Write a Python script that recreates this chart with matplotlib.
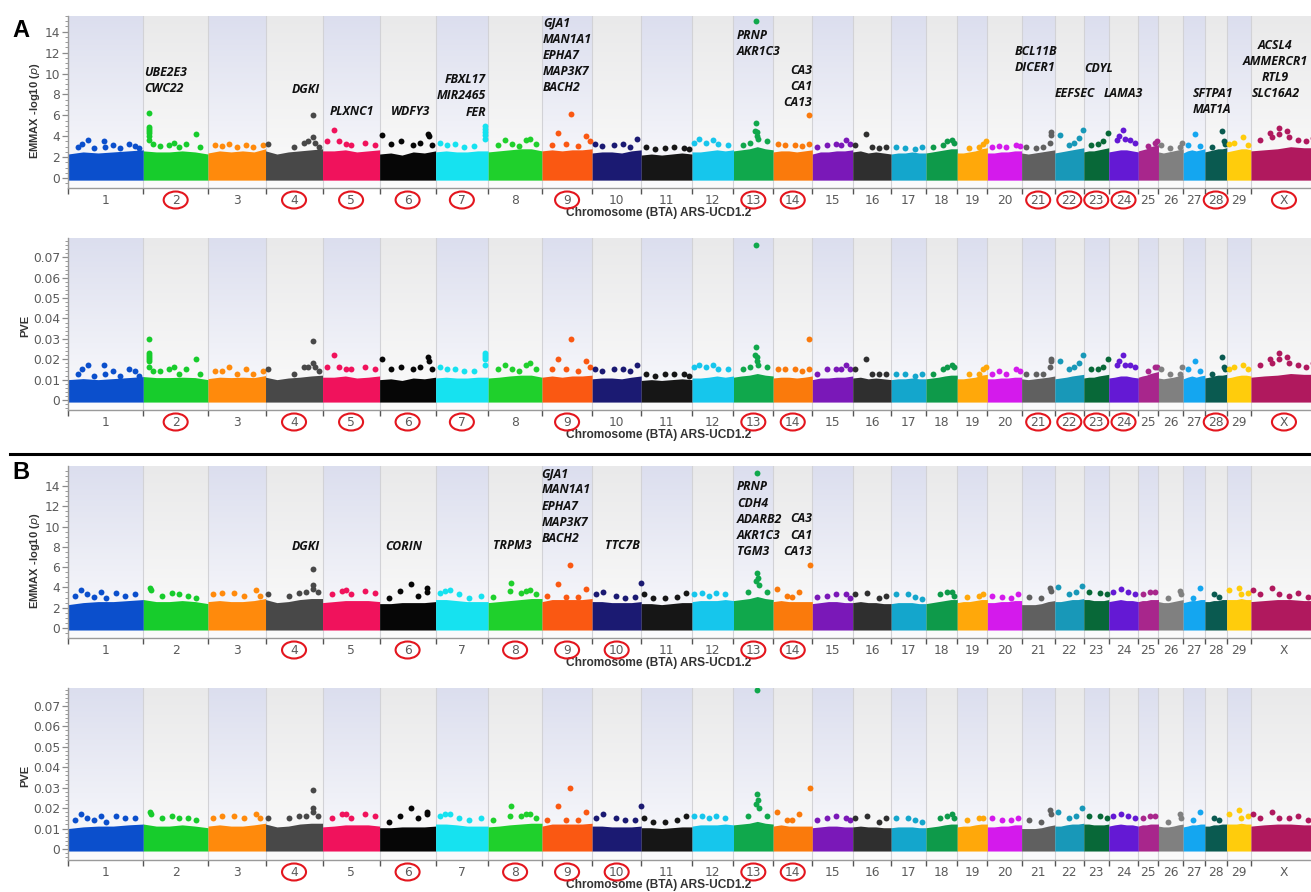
import numpy as np
import matplotlib
matplotlib.use("Agg")
import matplotlib.pyplot as plt
from matplotlib.patches import Ellipse
from matplotlib.transforms import blended_transform_factory
from matplotlib.ticker import MultipleLocator, FixedLocator, FuncFormatter, NullFormatter

# ---------------------------------------------------------------- genome
chrom_names = [str(i) for i in range(1, 30)] + ["X"]
chrom_len_mb = [158.5, 136.2, 121.0, 120.0, 120.1, 117.8, 110.7, 113.3, 105.5, 103.3,
                107.0, 87.2, 83.5, 82.4, 85.0, 81.0, 73.2, 65.8, 63.4, 72.0,
                69.9, 61.0, 52.5, 62.3, 42.4, 52.0, 45.6, 45.9, 51.1, 139.0]
chrom_colors = ["#0b4fcc", "#17cc2c", "#ff8a0c", "#484848", "#f0125c", "#060606",
                "#16e2f0", "#1fd02c", "#fa5812", "#1b1a72", "#161616", "#16c6ec",
                "#10a84c", "#fa7a0c", "#7a18b8", "#2f2f2f", "#14a6cc", "#0e9a4a",
                "#ffa80a", "#d41aec", "#606060", "#1898b8", "#086838", "#6419d4",
                "#a8268c", "#808080", "#14a6f0", "#0a5a50", "#ffcc0c", "#b0195e"]

# ------------------------------------------------ analysis A (upper block)
# top of the dense SNP mass, six samples along each chromosome
a_edge_logp = [[2.3, 2.5, 2.4, 2.5, 2.6, 2.7], [2.6, 2.5, 2.5, 2.6, 2.5, 2.3], [2.4, 2.6, 2.5, 2.6, 2.5, 2.8],
               [2.6, 2.3, 2.5, 2.6, 2.7, 2.8], [2.6, 2.6, 2.7, 2.5, 2.6, 2.7], [2.3, 2.4, 2.2, 2.5, 2.4, 2.6],
               [2.5, 2.6, 2.5, 2.5, 2.6, 2.6], [2.5, 2.6, 2.7, 2.8, 2.8, 2.6], [2.6, 2.7, 2.6, 2.7, 2.7, 2.8],
               [2.4, 2.5, 2.5, 2.4, 2.6, 2.7], [2.2, 2.3, 2.2, 2.3, 2.4, 2.3], [2.5, 2.5, 2.6, 2.7, 2.6, 2.7],
               [2.6, 2.7, 2.8, 3.0, 2.8, 2.7], [2.5, 2.6, 2.6, 2.5, 2.6, 2.7], [2.3, 2.5, 2.5, 2.6, 2.6, 2.7],
               [2.5, 2.6, 2.4, 2.5, 2.4, 2.3], [2.3, 2.4, 2.4, 2.5, 2.4, 2.4], [2.4, 2.5, 2.6, 2.7, 2.8, 2.8],
               [2.4, 2.4, 2.5, 2.6, 2.8, 2.9], [2.4, 2.4, 2.5, 2.5, 2.6, 2.6], [2.4, 2.3, 2.4, 2.5, 2.6, 2.7],
               [2.4, 2.5, 2.6, 2.7, 2.8, 2.9], [2.5, 2.6, 2.6, 2.7, 2.8, 2.9], [2.5, 2.6, 2.7, 2.7, 2.6, 2.5],
               [2.6, 2.7, 2.8, 3.0, 3.1, 3.2], [2.5, 2.4, 2.5, 2.6, 2.7, 2.8], [2.4, 2.6, 2.7, 2.6, 2.7, 2.8],
               [2.5, 2.6, 2.7, 2.8, 2.8, 2.9], [2.5, 2.6, 2.7, 2.8, 2.8, 2.7], [2.6, 2.7, 2.8, 3.0, 2.9, 2.9]]
a_edge_pve = [[.0100, .0105, .0100, .0105, .0110, .0115], [.0115, .0110, .0110, .0112, .0110, .0100],
              [.0105, .0112, .0110, .0112, .0110, .0120], [.0112, .0100, .0108, .0112, .0118, .0122],
              [.0112, .0112, .0118, .0108, .0112, .0118], [.0100, .0104, .0096, .0108, .0104, .0112],
              [.0108, .0112, .0108, .0108, .0112, .0112], [.0108, .0112, .0118, .0122, .0122, .0112],
              [.0112, .0118, .0112, .0118, .0118, .0122], [.0104, .0108, .0108, .0104, .0112, .0118],
              [.0096, .0100, .0096, .0100, .0104, .0100], [.0108, .0108, .0112, .0118, .0112, .0118],
              [.0112, .0118, .0122, .0130, .0122, .0118], [.0108, .0112, .0112, .0108, .0112, .0118],
              [.0100, .0108, .0108, .0112, .0112, .0118], [.0108, .0112, .0104, .0108, .0104, .0100],
              [.0100, .0104, .0104, .0108, .0104, .0104], [.0104, .0108, .0112, .0118, .0122, .0122],
              [.0104, .0104, .0108, .0112, .0122, .0126], [.0104, .0104, .0108, .0108, .0112, .0112],
              [.0104, .0100, .0104, .0108, .0112, .0118], [.0104, .0108, .0112, .0118, .0122, .0126],
              [.0108, .0112, .0112, .0118, .0122, .0126], [.0108, .0112, .0118, .0118, .0112, .0108],
              [.0112, .0118, .0122, .0130, .0135, .0140], [.0108, .0104, .0108, .0112, .0118, .0122],
              [.0104, .0112, .0118, .0112, .0118, .0122], [.0108, .0112, .0118, .0122, .0122, .0126],
              [.0108, .0112, .0118, .0122, .0122, .0118], [.0112, .0118, .0122, .0130, .0126, .0126]]
# individual SNPs standing out above the mass: position (Mb), -log10(p), PVE
a_pos = {"1": [20, 30, 42, 55, 75, 78, 95, 110, 128, 140, 150],
         "2": [13, 13, 13, 13, 13, 13, 13, 20, 35, 55, 65, 75, 90, 110, 120],
         "3": [15, 30, 45, 60, 80, 95, 115],
         "4": [5, 60, 80, 90, 99, 99, 105, 112],
         "5": [24, 10, 35, 50, 60, 90, 110],
         "6": [6, 25, 45, 70, 85, 101, 103, 110],
         "7": [10, 25, 40, 60, 80, 105, 105, 105, 105, 105],
         "8": [20, 35, 50, 65, 80, 88, 100],
         "9": [34, 61, 93, 20, 50, 75, 100],
         "10": [5, 20, 45, 65, 80, 95],
         "11": [10, 30, 50, 70, 90, 100],
         "12": [5, 15, 30, 45, 55, 75],
         "13": [48, 48, 46, 49, 50, 52, 20, 35, 70],
         "14": [76, 10, 25, 45, 60, 75],
         "15": [10, 30, 50, 60, 70, 80],
         "16": [5, 28, 40, 55, 70],
         "17": [10, 30, 50, 65],
         "18": [15, 35, 45, 55, 60],
         "19": [25, 45, 55, 60],
         "20": [10, 25, 40, 60, 68],
         "21": [61, 61, 60, 10, 30, 45],
         "22": [12, 50, 59, 30, 40],
         "23": [51, 40, 15, 30],
         "24": [31, 21, 18, 35, 45, 55],
         "25": [20, 35, 40],
         "26": [5, 25, 45, 50],
         "27": [25, 10, 35],
         "28": [37, 40, 43, 15],
         "29": [5, 15, 35, 45],
         "X": [59, 40, 45, 60, 75, 80, 100, 115, 130, 20]}
a_logp = {"1": [3.0, 3.3, 3.6, 2.9, 3.5, 3.0, 3.2, 2.9, 3.3, 3.1, 2.9],
          "2": [6.2, 4.9, 4.7, 4.5, 4.3, 4.0, 3.6, 3.3, 3.1, 3.2, 3.4, 3.0, 3.3, 4.2, 3.0],
          "3": [3.2, 3.1, 3.3, 3.0, 3.2, 3.0, 3.2],
          "4": [3.3, 3.0, 3.4, 3.5, 6.0, 3.9, 3.4, 3.0],
          "5": [4.6, 3.5, 3.5, 3.3, 3.2, 3.4, 3.2],
          "6": [4.1, 3.3, 3.5, 3.2, 3.4, 4.2, 4.0, 3.2],
          "7": [3.4, 3.2, 3.3, 3.0, 3.1, 5.0, 4.7, 4.4, 4.1, 3.7],
          "8": [3.2, 3.6, 3.3, 3.1, 3.6, 3.7, 3.3],
          "9": [4.3, 6.1, 4.0, 3.2, 3.3, 3.1, 3.5],
          "10": [3.3, 3.1, 3.2, 3.3, 3.0, 3.7],
          "11": [3.0, 2.8, 2.9, 3.0, 2.9, 2.8],
          "12": [3.4, 3.7, 3.4, 3.6, 3.3, 3.2],
          "13": [15.0, 5.3, 4.5, 4.4, 4.0, 3.7, 3.2, 3.4, 3.5],
          "14": [6.0, 3.3, 3.2, 3.2, 3.1, 3.3],
          "15": [3.0, 3.2, 3.3, 3.2, 3.6, 3.3],
          "16": [3.2, 4.2, 3.0, 2.9, 3.0],
          "17": [3.0, 2.9, 2.8, 3.0],
          "18": [3.0, 3.2, 3.5, 3.6, 3.4],
          "19": [2.9, 3.0, 3.3, 3.5],
          "20": [3.0, 3.1, 3.0, 3.2, 3.1],
          "21": [4.4, 4.1, 3.4, 3.0, 2.9, 3.0],
          "22": [4.1, 3.8, 4.6, 3.2, 3.4],
          "23": [4.3, 3.5, 3.2, 3.3],
          "24": [4.6, 4.0, 3.6, 3.7, 3.6, 3.4],
          "25": [3.1, 3.4, 3.5],
          "26": [3.2, 2.9, 3.0, 3.4],
          "27": [4.2, 3.2, 3.1],
          "28": [4.5, 3.5, 3.3, 3.0],
          "29": [3.3, 3.4, 3.9, 3.2],
          "X": [4.8, 4.3, 3.9, 4.2, 4.5, 3.9, 3.6, 3.5, 3.8, 3.6]}
a_pve = {"1": [.013, .015, .017, .012, .017, .013, .014, .012, .015, .014, .012],
         "2": [.030, .023, .022, .021, .020, .019, .016, .014, .014, .015, .016, .013, .015, .020, .013],
         "3": [.014, .014, .016, .013, .015, .013, .014],
         "4": [.015, .013, .016, .016, .029, .018, .016, .014],
         "5": [.022, .016, .016, .015, .015, .016, .015],
         "6": [.020, .015, .016, .015, .016, .021, .019, .015],
         "7": [.016, .015, .015, .014, .014, .023, .022, .021, .020, .017],
         "8": [.015, .017, .015, .014, .017, .018, .015],
         "9": [.020, .030, .019, .015, .015, .014, .016],
         "10": [.015, .014, .015, .015, .014, .017],
         "11": [.013, .012, .013, .013, .013, .012],
         "12": [.016, .017, .016, .017, .015, .015],
         "13": [.076, .026, .022, .021, .019, .017, .015, .016, .016],
         "14": [.030, .015, .015, .015, .014, .015],
         "15": [.013, .015, .015, .015, .017, .015],
         "16": [.015, .020, .013, .013, .013],
         "17": [.013, .013, .012, .013],
         "18": [.013, .015, .016, .017, .016],
         "19": [.013, .013, .015, .016],
         "20": [.013, .014, .013, .015, .014],
         "21": [.020, .019, .016, .013, .013, .013],
         "22": [.019, .018, .022, .015, .016],
         "23": [.020, .016, .015, .015],
         "24": [.022, .019, .017, .017, .017, .016],
         "25": [.014, .016, .016],
         "26": [.015, .013, .013, .016],
         "27": [.019, .015, .014],
         "28": [.021, .016, .015, .013],
         "29": [.015, .016, .017, .015],
         "X": [.023, .020, .018, .020, .021, .018, .017, .016, .018, .017]}
a_circled = ["2", "4", "5", "6", "7", "9", "13", "14", "21", "22", "23", "24", "28", "X"]
# gene annotations: lines, genome position (Mb), y of first line, alignment
a_genes = [(["UBE2E3", "CWC22"], 160, 10.1, "left"),
           (["DGKI"], 501, 8.45, "center"),
           (["PLXNC1"], 551, 6.35, "left"),
           (["WDFY3"], 680, 6.35, "left"),
           (["FBXL17", "MIR2465", "FER"], 880, 9.4, "right"),
           (["GJA1", "MAN1A1", "EPHA7", "MAP3K7", "BACH2"], 1000, 14.8, "left"),
           (["PRNP", "AKR1C3"], 1408, 13.65, "left"),
           (["CA3", "CA1", "CA13"], 1566, 10.3, "right"),
           (["BCL11B", "DICER1"], 1993, 12.1, "left"),
           (["EEFSEC"], 2077, 8.1, "left"),
           (["CDYL"], 2138, 10.5, "left"),
           (["LAMA3"], 2180, 8.1, "left"),
           (["SFTPA1", "MAT1A"], 2367, 8.1, "left"),
           (["ACSL4", "AMMERCR1", "RTL9", "SLC16A2"], 2541, 12.7, "center")]

# ------------------------------------------------ analysis B (lower block)
b_edge_logp = [[2.3, 2.5, 2.6, 2.6, 2.7, 2.8], [2.8, 2.6, 2.6, 2.7, 2.6, 2.4], [2.6, 2.7, 2.6, 2.6, 2.7, 2.9],
               [2.8, 2.5, 2.6, 2.8, 2.9, 2.9], [2.5, 2.6, 2.7, 2.7, 2.7, 2.6], [2.4, 2.4, 2.5, 2.5, 2.5, 2.6],
               [2.8, 2.8, 2.7, 2.6, 2.6, 2.6], [2.5, 2.6, 2.7, 2.8, 2.9, 2.9], [2.6, 2.8, 2.8, 2.8, 2.8, 2.9],
               [2.6, 2.6, 2.5, 2.5, 2.5, 2.6], [2.4, 2.4, 2.3, 2.4, 2.5, 2.5], [2.6, 2.7, 2.7, 2.7, 2.8, 2.7],
               [2.7, 2.8, 2.9, 3.1, 2.9, 2.8], [2.6, 2.7, 2.6, 2.6, 2.6, 2.6], [2.4, 2.5, 2.6, 2.6, 2.5, 2.5],
               [2.5, 2.6, 2.5, 2.5, 2.4, 2.4], [2.4, 2.5, 2.5, 2.5, 2.4, 2.4], [2.4, 2.5, 2.6, 2.7, 2.8, 2.8],
               [2.5, 2.6, 2.6, 2.7, 2.8, 2.8], [2.5, 2.5, 2.6, 2.6, 2.7, 2.7], [2.3, 2.3, 2.3, 2.4, 2.6, 2.7],
               [2.6, 2.6, 2.7, 2.8, 2.8, 2.9], [2.8, 2.8, 2.7, 2.7, 2.7, 2.8], [2.6, 2.7, 2.8, 2.7, 2.7, 2.6],
               [2.6, 2.7, 2.7, 2.8, 2.8, 2.8], [2.6, 2.5, 2.5, 2.6, 2.7, 2.8], [2.5, 2.6, 2.7, 2.7, 2.8, 2.8],
               [2.6, 2.6, 2.7, 2.7, 2.8, 2.8], [2.8, 2.8, 2.8, 2.9, 2.8, 2.8], [2.6, 2.7, 2.8, 2.8, 2.7, 2.7]]
b_edge_pve = [[.0100, .0108, .0112, .0112, .0118, .0122], [.0122, .0112, .0112, .0118, .0112, .0104],
              [.0112, .0118, .0112, .0112, .0118, .0126], [.0122, .0108, .0112, .0122, .0126, .0126],
              [.0108, .0112, .0118, .0118, .0118, .0112], [.0104, .0104, .0108, .0108, .0108, .0112],
              [.0122, .0122, .0118, .0112, .0112, .0112], [.0108, .0112, .0118, .0122, .0126, .0126],
              [.0112, .0122, .0122, .0122, .0122, .0126], [.0112, .0112, .0108, .0108, .0108, .0112],
              [.0104, .0104, .0100, .0104, .0108, .0108], [.0112, .0118, .0118, .0118, .0122, .0118],
              [.0118, .0122, .0126, .0135, .0126, .0122], [.0112, .0118, .0112, .0112, .0112, .0112],
              [.0104, .0108, .0112, .0112, .0108, .0108], [.0108, .0112, .0108, .0108, .0104, .0104],
              [.0104, .0108, .0108, .0108, .0104, .0104], [.0104, .0108, .0112, .0118, .0122, .0122],
              [.0108, .0112, .0112, .0118, .0122, .0122], [.0108, .0108, .0112, .0112, .0118, .0118],
              [.0100, .0100, .0100, .0104, .0112, .0118], [.0112, .0112, .0118, .0122, .0122, .0126],
              [.0122, .0122, .0118, .0118, .0118, .0122], [.0112, .0118, .0122, .0118, .0118, .0112],
              [.0112, .0118, .0118, .0122, .0122, .0122], [.0112, .0108, .0108, .0112, .0118, .0122],
              [.0108, .0112, .0118, .0118, .0122, .0122], [.0112, .0112, .0118, .0118, .0122, .0122],
              [.0122, .0122, .0122, .0126, .0122, .0122], [.0112, .0118, .0122, .0122, .0118, .0118]]
b_pos = {"1": [15, 27, 40, 55, 70, 80, 100, 120, 140],
         "2": [15, 16, 40, 60, 75, 95, 110],
         "3": [10, 30, 55, 75, 100, 110],
         "4": [5, 50, 70, 85, 99, 99, 100, 110],
         "5": [20, 40, 50, 60, 90, 110],
         "6": [42, 67, 99, 100, 20, 80],
         "7": [10, 20, 30, 50, 70, 95],
         "8": [10, 45, 49, 70, 80, 87, 100],
         "9": [10, 34, 59, 93, 50, 75],
         "10": [8, 23, 50, 70, 102, 90],
         "11": [5, 25, 50, 75, 95],
         "12": [5, 20, 35, 50, 70],
         "13": [50, 50, 52, 48, 53, 30, 70],
         "14": [8, 55, 78, 30, 40],
         "15": [10, 30, 50, 70, 80],
         "16": [5, 30, 55, 70],
         "17": [10, 35, 50, 65],
         "18": [30, 45, 55, 60],
         "19": [20, 45, 55],
         "20": [10, 30, 50, 65],
         "21": [60, 62, 15, 40],
         "22": [6, 30, 58, 45],
         "23": [10, 35, 48],
         "24": [10, 25, 40, 55],
         "25": [10, 25, 35],
         "26": [20, 45, 48],
         "27": [20, 35],
         "28": [20, 30],
         "29": [5, 25, 30, 45],
         "X": [5, 20, 45, 60, 80, 100, 120]}
b_logp = {"1": [3.2, 3.7, 3.3, 3.1, 3.5, 3.0, 3.4, 3.2, 3.3],
          "2": [3.9, 3.7, 3.2, 3.4, 3.3, 3.2, 3.0],
          "3": [3.3, 3.4, 3.4, 3.2, 3.7, 3.2],
          "4": [3.3, 3.2, 3.4, 3.5, 5.8, 4.2, 3.8, 3.5],
          "5": [3.3, 3.6, 3.7, 3.3, 3.6, 3.4],
          "6": [3.6, 4.3, 3.9, 3.5, 3.0, 3.2],
          "7": [3.4, 3.6, 3.7, 3.3, 3.0, 3.2],
          "8": [3.1, 3.6, 4.4, 3.4, 3.6, 3.7, 3.3],
          "9": [3.2, 4.3, 6.2, 3.8, 3.1, 3.1],
          "10": [3.3, 3.5, 3.2, 3.0, 4.4, 3.1],
          "11": [3.3, 3.0, 3.0, 3.1, 3.4],
          "12": [3.3, 3.4, 3.2, 3.4, 3.3],
          "13": [15.3, 5.4, 4.9, 4.6, 4.2, 3.5, 3.5],
          "14": [3.8, 3.5, 6.2, 3.2, 3.1],
          "15": [3.1, 3.2, 3.3, 3.3, 3.0],
          "16": [3.3, 3.4, 3.0, 3.2],
          "17": [3.3, 3.3, 3.1, 2.9],
          "18": [3.3, 3.5, 3.5, 3.2],
          "19": [3.1, 3.2, 3.3],
          "20": [3.2, 3.1, 3.0, 3.3],
          "21": [3.9, 3.6, 3.1, 3.0],
          "22": [4.0, 3.3, 4.1, 3.5],
          "23": [3.5, 3.4, 3.3],
          "24": [3.5, 3.8, 3.5, 3.3],
          "25": [3.3, 3.5, 3.5],
          "26": [3.0, 3.6, 3.3],
          "27": [3.0, 3.9],
          "28": [3.3, 3.1],
          "29": [3.7, 3.9, 3.3, 3.4],
          "X": [3.7, 3.3, 3.9, 3.3, 3.2, 3.4, 3.1]}
b_pve = {"1": [.014, .017, .015, .014, .016, .013, .016, .015, .015],
         "2": [.018, .017, .015, .016, .015, .015, .014],
         "3": [.015, .016, .016, .015, .017, .015],
         "4": [.015, .015, .016, .016, .029, .020, .018, .016],
         "5": [.015, .017, .017, .015, .017, .016],
         "6": [.016, .020, .018, .017, .013, .015],
         "7": [.016, .017, .017, .015, .014, .015],
         "8": [.014, .016, .021, .016, .017, .017, .015],
         "9": [.014, .021, .030, .018, .014, .014],
         "10": [.015, .017, .015, .014, .021, .014],
         "11": [.015, .013, .013, .014, .016],
         "12": [.016, .016, .015, .016, .015],
         "13": [.078, .027, .024, .022, .020, .016, .016],
         "14": [.018, .017, .030, .014, .014],
         "15": [.014, .015, .016, .015, .014],
         "16": [.015, .016, .013, .015],
         "17": [.015, .015, .014, .013],
         "18": [.015, .016, .017, .015],
         "19": [.014, .015, .015],
         "20": [.015, .014, .014, .015],
         "21": [.019, .017, .014, .013],
         "22": [.018, .015, .020, .016],
         "23": [.016, .016, .015],
         "24": [.016, .017, .016, .015],
         "25": [.015, .016, .016],
         "26": [.013, .017, .015],
         "27": [.014, .018],
         "28": [.015, .014],
         "29": [.017, .019, .015, .016],
         "X": [.017, .015, .018, .015, .015, .016, .014]}
b_circled = ["4", "6", "8", "9", "10", "13", "14"]
b_genes = [(["DGKI"], 501, 8.0, "center"),
           (["CORIN"], 707, 8.0, "center"),
           (["TRPM3"], 936, 8.1, "center"),
           (["GJA1", "MAN1A1", "EPHA7", "MAP3K7", "BACH2"], 997, 15.2, "left"),
           (["TTC7B"], 1166, 8.1, "center"),
           (["PRNP", "CDH4", "ADARB2", "AKR1C3", "TGM3"], 1408, 13.9, "left"),
           (["CA3", "CA1", "CA13"], 1566, 10.75, "right")]

# ---------------------------------------------------------------- layout
W, H = 1311, 892
X_LEFT, X_RIGHT = 68, 1311
GENOME_VIEW = 2616.0                       # Mb shown across the x axis
PX_PER_MB = (X_RIGHT - X_LEFT) / GENOME_VIEW
starts = np.concatenate([[0.0], np.cumsum(chrom_len_mb)[:-1]])
ends = starts + np.array(chrom_len_mb)

fig = plt.figure(figsize=(W / 100, H / 100), dpi=100)
fig.patch.set_facecolor("white")

GENE_FONT = dict(family=["Open Sans", "DejaVu Sans"], weight="bold", style="italic", size=8.8)
LABEL_FONT = ["Liberation Sans", "DejaVu Sans"]


def new_axes(top_px, bottom_px):
    return fig.add_axes([X_LEFT / W, 1 - bottom_px / H, (X_RIGHT - X_LEFT) / W,
                         (bottom_px - top_px) / H])


def draw_panel(ax, ylim, edges, pos, vals, circled, ylabel, is_pve, genes, label_xy):
    y0, y1 = ylim
    height_px = ax.get_position().height * H
    # alternating shaded chromosome bands
    ramp = np.linspace(0, 1, 64)[:, None]
    for i, (s, e) in enumerate(zip(starts, ends)):
        if i % 2 == 0:
            top, bot = np.array([0.862, 0.872, 0.935]), np.array([0.985, 0.985, 0.99])
        else:
            top, bot = np.array([0.915, 0.915, 0.918]), np.array([0.985, 0.985, 0.985])
        img = (top[None, :] * (1 - ramp) + bot[None, :] * ramp)[:, None, :]
        ax.imshow(img, extent=(s, e, y0, y1), aspect="auto", origin="upper",
                  interpolation="bilinear", zorder=0)
        if i > 0:
            ax.axvline(s, color="#d2d2d6", lw=0.8, zorder=0.5)
    # dense SNP mass and the individual SNPs above it
    base = -0.012 * (y1 - y0)
    for i, name in enumerate(chrom_names):
        s, L = starts[i], chrom_len_mb[i]
        xs = s + L * np.linspace(0.0, 1.0, len(edges[i]))
        ax.fill_between(xs, base, edges[i], color=chrom_colors[i], lw=0, zorder=2)
        px = s + np.array(pos[name], dtype=float)
        ax.scatter(px, vals[name], s=18, color=chrom_colors[i], lw=0, zorder=3)
    ax.set_xlim(0, GENOME_VIEW)
    ax.set_ylim(y0, y1)

    # axes styling
    for side in ("top", "right"):
        ax.spines[side].set_visible(False)
    for side in ("left", "bottom"):
        ax.spines[side].set_color("#9a9a9a")
        ax.spines[side].set_linewidth(1.0)
    ax.xaxis.set_major_locator(FixedLocator(list(starts) + [ends[-1]]))
    ax.xaxis.set_major_formatter(NullFormatter())
    ax.tick_params(axis="x", which="major", length=4, width=1.0, color="#555555", direction="out")
    if is_pve:
        ax.yaxis.set_major_locator(MultipleLocator(0.01))
        ax.yaxis.set_minor_locator(MultipleLocator(0.002))
        ax.yaxis.set_major_formatter(FuncFormatter(lambda v, _: "0" if abs(v) < 1e-9 else f"{v:.2f}"))
    else:
        ax.yaxis.set_major_locator(MultipleLocator(2))
        ax.yaxis.set_minor_locator(MultipleLocator(0.5))
        ax.yaxis.set_major_formatter(FuncFormatter(lambda v, _: f"{v:.0f}"))
    ax.tick_params(axis="y", which="major", length=4, width=0.9, color="#8a8a8a",
                   labelsize=8.8, labelcolor="#5a5a5a", pad=1.5)
    ax.tick_params(axis="y", which="minor", length=2, width=0.7, color="#9a9a9a")
    ax.set_ylabel(ylabel, fontsize=8, fontweight="bold", color="#333333", family=LABEL_FONT)
    ax.yaxis.set_label_coords(*label_xy)

    # chromosome labels, some of them ringed
    trans = blended_transform_factory(ax.transData, ax.transAxes)
    ly = -12.0 / height_px
    for i, name in enumerate(chrom_names):
        c = starts[i] + chrom_len_mb[i] / 2
        ax.text(c, ly, name, transform=trans, ha="center", va="center",
                fontsize=8.8, color="#5a5a5a", clip_on=False)
        if name in circled:
            ax.add_patch(Ellipse((c, ly), width=24 / PX_PER_MB, height=17 / height_px,
                                 transform=trans, fill=False, ec="#e3161e", lw=1.5,
                                 clip_on=False, zorder=5))
    ax.text(0.4755, -25.0 / height_px, "Chromosome (BTA) ARS-UCD1.2", transform=ax.transAxes,
            ha="center", va="center", fontsize=8.6, fontweight="bold", color="#333333",
            family=LABEL_FONT)

    # gene names above the peaks
    for lines, gx, gy, ha in genes:
        for k, line in enumerate(lines):
            ax.annotate(line, xy=(gx, gy), xytext=(0, -11.6 * k), textcoords="offset points",
                        ha=ha, va="center", color="#111111", zorder=6,
                        annotation_clip=False, **GENE_FONT)


ax_a1 = new_axes(16, 188)
draw_panel(ax_a1, (-0.95, 15.5), a_edge_logp, a_pos, a_logp, a_circled,
           r"EMMAX -log10 ($\mathbf{\it{p}}$)", False, a_genes, (-0.021, 0.45))
ax_a2 = new_axes(238, 410)
draw_panel(ax_a2, (-0.0049, 0.0795), a_edge_pve, a_pos, a_pve, a_circled,
           "PVE", True, [], (-0.0305, 0.49))
ax_b1 = new_axes(466, 638)
draw_panel(ax_b1, (-0.99, 15.97), b_edge_logp, b_pos, b_logp, b_circled,
           r"EMMAX -log10 ($\mathbf{\it{p}}$)", False, b_genes, (-0.021, 0.45))
ax_b2 = new_axes(688, 860)
draw_panel(ax_b2, (-0.0054, 0.0788), b_edge_pve, b_pos, b_pve, b_circled,
           "PVE", True, [], (-0.0305, 0.49))

# panel letters and the divider between the two analyses
fig.text(12 / W, 1 - 37 / H, "A", fontsize=17, fontweight="bold", va="baseline", family=LABEL_FONT)
fig.text(12 / W, 1 - 479 / H, "B", fontsize=17, fontweight="bold", va="baseline", family=LABEL_FONT)
fig.add_artist(plt.Line2D([10 / W, 1.0], [1 - 454 / H, 1 - 454 / H], color="black", lw=2.2,
                          transform=fig.transFigure))

fig.savefig("out.png", dpi=100, facecolor="white")
